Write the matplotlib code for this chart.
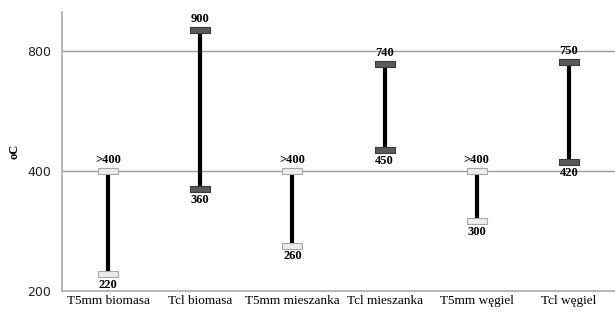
import matplotlib.pyplot as plt
from matplotlib.path import Path

# Data
categories = ['T5mm biomasa', 'Tcl biomasa', 'T5mm mieszanka', 'Tcl mieszanka', 'T5mm węgiel', 'Tcl węgiel']
high = [400, 900, 400, 740, 400, 750]
low = [220, 360, 260, 450, 300, 420]
high_labels = ['>400', '900', '>400', '740', '>400', '750']
low_labels = ['220', '360', '260', '450', '300', '420']
dark = [False, True, False, True, False, True]

fig = plt.figure(figsize=(6.15, 3.12), dpi=100)
ax = fig.add_axes([62 / 615, 21 / 312, 553 / 615, 279 / 312])

ax.set_yscale('log', base=2)
ax.set_ylim(200, 1000)
ax.set_xlim(-0.5, len(categories) - 0.5)

ax.set_yticks([200, 400, 800])
ax.set_yticklabels(['200', '400', '800'], fontsize=9, color='#222222')
ax.minorticks_off()
for y in [400, 800]:
    ax.axhline(y, color='#9a9a9a', lw=1, zorder=0)

ax.set_xticks(range(len(categories)))
ax.set_xticklabels(categories, family='Liberation Serif', fontsize=9.5)
ax.tick_params(axis='y', length=0, pad=8)
ax.tick_params(axis='x', length=0, pad=3)

for s in ['top', 'right']:
    ax.spines[s].set_visible(False)
for s in ['left', 'bottom']:
    ax.spines[s].set_color('#aaaaaa')
    ax.spines[s].set_linewidth(1.2)

# rectangle marker
rect = Path([(-1, -0.26), (1, -0.26), (1, 0.26), (-1, 0.26), (-1, -0.26)],
            [Path.MOVETO, Path.LINETO, Path.LINETO, Path.LINETO, Path.CLOSEPOLY])

for i, cat in enumerate(categories):
    ax.plot([i, i], [low[i], high[i]], color='black', lw=3, zorder=2, solid_capstyle='butt')
    if dark[i]:
        fc, ec = '#5a5a5a', '#3a3a3a'
    else:
        fc, ec = '#ececec', '#a8a8a8'
    ax.plot([i, i], [low[i], high[i]], ls='none', marker=rect, markersize=15,
            markerfacecolor=fc, markeredgecolor=ec, markeredgewidth=0.8, zorder=3)
    ax.annotate(high_labels[i], (i, high[i]), xytext=(0, 3.5), textcoords='offset points',
                ha='center', va='bottom', fontsize=9, fontweight='bold', family='Liberation Serif')
    ax.annotate(low_labels[i], (i, low[i]), xytext=(0, -3.5), textcoords='offset points',
                ha='center', va='top', fontsize=9, fontweight='bold', family='Liberation Serif')

fig.text(15 / 615, 0.515, 'oC', rotation=90, ha='center', va='center',
         fontsize=9, fontweight='bold', family='Liberation Serif')

fig.savefig('out.png', dpi=100)
